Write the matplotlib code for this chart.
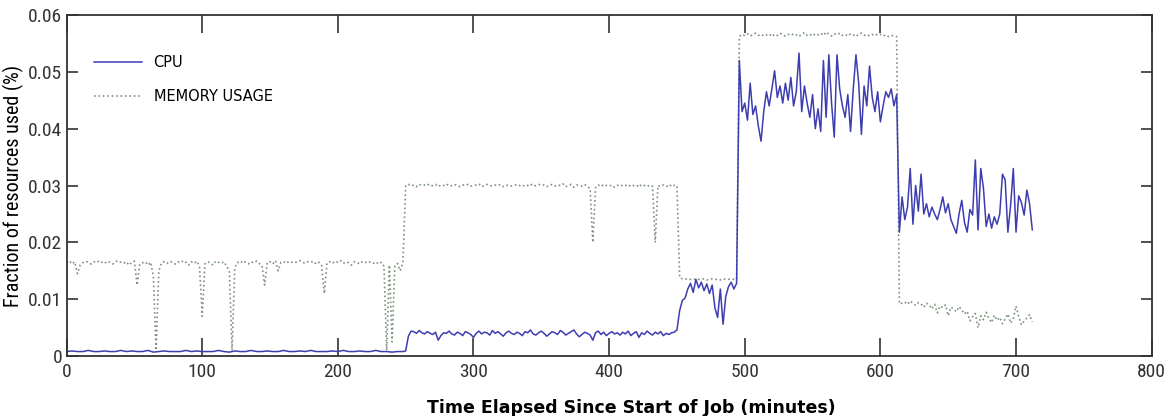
import numpy as np
import matplotlib
matplotlib.use('Agg')
from matplotlib import pyplot as plt

# CPU samples, one segment per phase of the job
cpu_t_start = [0, 250, 452, 496, 614]
cpu_t_step = [4, 2, 2, 2, 2]

cpu_idle = [
    0.0008, 0.0009, 0.0008, 0.0008, 0.0010, 0.0008, 0.0008, 0.0009, 0.0008, 0.0008,
    0.0010, 0.0008, 0.0009, 0.0008, 0.0008, 0.0010, 0.0007, 0.0008, 0.0009, 0.0008,
    0.0008, 0.0008, 0.0010, 0.0008, 0.0009, 0.0008, 0.0008, 0.0008, 0.0010, 0.0008,
    0.0007, 0.0009, 0.0008, 0.0008, 0.0010, 0.0008, 0.0008, 0.0009, 0.0008, 0.0008,
    0.0010, 0.0008, 0.0008, 0.0009, 0.0008, 0.0010, 0.0008, 0.0008, 0.0008, 0.0009,
    0.0008, 0.0010, 0.0008, 0.0008, 0.0009, 0.0008, 0.0008, 0.0010, 0.0008, 0.0008,
    0.0007, 0.0008, 0.0008,
]
cpu_phase2 = [
    0.0009, 0.0035, 0.0044, 0.0043, 0.0040, 0.0045, 0.0041, 0.0039, 0.0043, 0.0040,
    0.0038, 0.0042, 0.0028, 0.0036, 0.0041, 0.0040, 0.0044, 0.0039, 0.0037, 0.0042,
    0.0040, 0.0036, 0.0043, 0.0041, 0.0038, 0.0033, 0.0040, 0.0044, 0.0039, 0.0042,
    0.0041, 0.0037, 0.0045, 0.0040, 0.0043, 0.0039, 0.0035, 0.0041, 0.0044, 0.0040,
    0.0038, 0.0042, 0.0040, 0.0036, 0.0043, 0.0041, 0.0046, 0.0039, 0.0037, 0.0041,
    0.0044, 0.0040, 0.0035, 0.0039, 0.0043, 0.0041, 0.0038, 0.0045, 0.0042, 0.0037,
    0.0040, 0.0043, 0.0046, 0.0039, 0.0034, 0.0038, 0.0042, 0.0040, 0.0037, 0.0028,
    0.0041, 0.0044, 0.0038, 0.0042, 0.0036, 0.0040, 0.0043, 0.0039, 0.0041, 0.0037,
    0.0042, 0.0039, 0.0044, 0.0036, 0.0040, 0.0043, 0.0033, 0.0041, 0.0038, 0.0044,
    0.0040, 0.0037, 0.0042, 0.0039, 0.0043, 0.0036, 0.0040, 0.0038, 0.0041, 0.0042,
    0.0046,
]
cpu_phase3 = [
    0.0080, 0.0098, 0.0102, 0.0118, 0.0128, 0.0112, 0.0135, 0.0120, 0.0130, 0.0115,
    0.0127, 0.0110, 0.0125, 0.0085, 0.0068, 0.0118, 0.0056, 0.0105, 0.0122, 0.0130,
    0.0118, 0.0128,
]
cpu_phase4 = [
    0.0520, 0.0430, 0.0445, 0.0415, 0.0480, 0.0425, 0.0440, 0.0405, 0.0378, 0.0430,
    0.0465, 0.0440, 0.0470, 0.0502, 0.0455, 0.0475, 0.0445, 0.0480, 0.0450, 0.0490,
    0.0440, 0.0465, 0.0533, 0.0430, 0.0475, 0.0445, 0.0420, 0.0460, 0.0400, 0.0435,
    0.0395, 0.0520, 0.0420, 0.0530, 0.0445, 0.0385, 0.0530, 0.0470, 0.0440, 0.0420,
    0.0460, 0.0395, 0.0470, 0.0530, 0.0480, 0.0390, 0.0475, 0.0440, 0.0510, 0.0455,
    0.0430, 0.0465, 0.0412, 0.0440, 0.0465, 0.0455, 0.0470, 0.0440, 0.0460,
]
cpu_phase5 = [
    0.0218, 0.0280, 0.0240, 0.0262, 0.0330, 0.0232, 0.0300, 0.0255, 0.0320, 0.0250,
    0.0268, 0.0245, 0.0262, 0.0250, 0.0240, 0.0258, 0.0280, 0.0252, 0.0268, 0.0240,
    0.0228, 0.0216, 0.0250, 0.0274, 0.0235, 0.0218, 0.0258, 0.0248, 0.0345, 0.0222,
    0.0330, 0.0295, 0.0228, 0.0250, 0.0225, 0.0245, 0.0232, 0.0250, 0.0320, 0.0310,
    0.0218, 0.0265, 0.0330, 0.0218, 0.0282, 0.0270, 0.0248, 0.0292, 0.0268, 0.0222,
]

# memory samples, every 2 minutes
mem_t_start = [0, 250, 452, 496, 614]

mem_phase1 = [
    0.0165, 0.0168, 0.0162, 0.0166, 0.0145, 0.0160, 0.0164, 0.0167, 0.0165, 0.0162,
    0.0166, 0.0164, 0.0168, 0.0165, 0.0163, 0.0167, 0.0165, 0.0162, 0.0166, 0.0168,
    0.0165, 0.0163, 0.0166, 0.0160, 0.0165, 0.0167, 0.0125, 0.0162, 0.0164, 0.0166,
    0.0160, 0.0165, 0.0140, 0.0010, 0.0150, 0.0164, 0.0166, 0.0163, 0.0167, 0.0165,
    0.0162, 0.0166, 0.0164, 0.0168, 0.0165, 0.0160, 0.0166, 0.0163, 0.0167, 0.0158,
    0.0070, 0.0162, 0.0166, 0.0164, 0.0160, 0.0167, 0.0165, 0.0163, 0.0166, 0.0158,
    0.0150, 0.0010, 0.0155, 0.0165, 0.0163, 0.0168, 0.0165, 0.0162, 0.0166, 0.0164,
    0.0167, 0.0163, 0.0160, 0.0125, 0.0165, 0.0166, 0.0162, 0.0168, 0.0150, 0.0165,
    0.0166, 0.0163, 0.0167, 0.0165, 0.0164, 0.0166, 0.0168, 0.0165, 0.0163, 0.0166,
    0.0165, 0.0167, 0.0162, 0.0165, 0.0160, 0.0110, 0.0164, 0.0166, 0.0163, 0.0167,
    0.0165, 0.0168, 0.0163, 0.0166, 0.0164, 0.0160, 0.0166, 0.0165, 0.0162, 0.0166,
    0.0164, 0.0167, 0.0165, 0.0163, 0.0166, 0.0162, 0.0165, 0.0158, 0.0010, 0.0160,
    0.0025, 0.0158, 0.0163, 0.0150, 0.0165,
]
mem_phase2 = [
    0.0300, 0.0302, 0.0299, 0.0301, 0.0298, 0.0302, 0.0300, 0.0301, 0.0303, 0.0299,
    0.0300, 0.0302, 0.0298, 0.0301, 0.0300, 0.0303, 0.0299, 0.0300, 0.0302, 0.0300,
    0.0298, 0.0301, 0.0300, 0.0302, 0.0299, 0.0300, 0.0301, 0.0303, 0.0298, 0.0300,
    0.0302, 0.0300, 0.0299, 0.0301, 0.0300, 0.0302, 0.0298, 0.0300, 0.0301, 0.0299,
    0.0300, 0.0302, 0.0300, 0.0298, 0.0301, 0.0300, 0.0303, 0.0299, 0.0300, 0.0302,
    0.0300, 0.0301, 0.0298, 0.0300, 0.0302, 0.0299, 0.0301, 0.0300, 0.0303, 0.0298,
    0.0300, 0.0302, 0.0297, 0.0301, 0.0300, 0.0299, 0.0302, 0.0298, 0.0295, 0.0200,
    0.0296, 0.0301, 0.0298, 0.0302, 0.0300, 0.0299, 0.0301, 0.0297, 0.0300, 0.0302,
    0.0299, 0.0300, 0.0302, 0.0298, 0.0300, 0.0301, 0.0297, 0.0302, 0.0300, 0.0298,
    0.0301, 0.0299, 0.0200, 0.0300, 0.0298, 0.0301, 0.0300, 0.0297, 0.0302, 0.0300,
    0.0300,
]
mem_phase3 = [
    0.0138, 0.0136, 0.0135, 0.0136, 0.0135, 0.0134, 0.0136, 0.0135, 0.0135, 0.0136,
    0.0134, 0.0135, 0.0136, 0.0135, 0.0135, 0.0134, 0.0136, 0.0135, 0.0135, 0.0136,
    0.0135, 0.0135,
]
mem_phase4 = [
    0.0562, 0.0566, 0.0564, 0.0567, 0.0563, 0.0565, 0.0568, 0.0564, 0.0566, 0.0563,
    0.0565, 0.0567, 0.0562, 0.0566, 0.0564, 0.0568, 0.0565, 0.0563, 0.0566, 0.0564,
    0.0567, 0.0565, 0.0562, 0.0566, 0.0569, 0.0564, 0.0566, 0.0563, 0.0567, 0.0565,
    0.0568, 0.0564, 0.0570, 0.0566, 0.0563, 0.0567, 0.0565, 0.0568, 0.0564, 0.0566,
    0.0563, 0.0567, 0.0565, 0.0562, 0.0566, 0.0568, 0.0564, 0.0566, 0.0563, 0.0565,
    0.0567, 0.0564, 0.0566, 0.0563, 0.0565, 0.0562, 0.0564, 0.0563, 0.0562,
]
mem_phase5 = [
    0.0092, 0.0093, 0.0095, 0.0091, 0.0097, 0.0093, 0.0089, 0.0094, 0.0092, 0.0086,
    0.0093, 0.0090, 0.0083, 0.0091, 0.0076, 0.0088, 0.0085, 0.0090, 0.0071, 0.0086,
    0.0083, 0.0078, 0.0087, 0.0081, 0.0074, 0.0079, 0.0062, 0.0069, 0.0075, 0.0050,
    0.0071, 0.0064, 0.0077, 0.0066, 0.0059, 0.0072, 0.0063, 0.0068, 0.0057, 0.0065,
    0.0074, 0.0058, 0.0066, 0.0088, 0.0069, 0.0055, 0.0062, 0.0067, 0.0073, 0.0060,
]

x_ticks = [0, 100, 200, 300, 400, 500, 600, 700, 800]
y_ticks = [0, 0.01, 0.02, 0.03, 0.04, 0.05, 0.06]
y_tick_labels = ['0', '0.01', '0.02', '0.03', '0.04', '0.05', '0.06']


def join_segments(starts, steps, segments):
    times, values = [], []
    for start, step, seg in zip(starts, steps, segments):
        times.append(start + step * np.arange(len(seg)))
        values.append(np.array(seg))
    return np.concatenate(times), np.concatenate(values)


cpu_t, cpu = join_segments(cpu_t_start, cpu_t_step,
                           [cpu_idle, cpu_phase2, cpu_phase3, cpu_phase4, cpu_phase5])
mem_t, mem = join_segments(mem_t_start, [2] * 5,
                           [mem_phase1, mem_phase2, mem_phase3, mem_phase4, mem_phase5])

narrow = dict(family=['Liberation Sans Narrow', 'Roboto Condensed', 'DejaVu Sans'],
              fontstretch='condensed')

fig = plt.figure(figsize=(11.68, 4.16), dpi=100)
ax = fig.add_axes([0.057, 0.144, 0.929, 0.820])

ax.plot(mem_t, mem, linestyle=':', color='#7d917d', linewidth=1.2, label='MEMORY USAGE')
ax.plot(cpu_t, cpu, color='#3d3db0', linewidth=1.1, label='CPU')

ax.set_xlim(0, 800)
ax.set_ylim(0, 0.06)
ax.set_xticks(x_ticks)
ax.set_xticklabels([str(t) for t in x_ticks], fontsize=14, **narrow)
ax.set_yticks(y_ticks)
ax.set_yticklabels(y_tick_labels, fontsize=14, **narrow)
ax.tick_params(direction='in', width=1.2, top=True, right=True, colors='#333333')
ax.tick_params(axis='x', length=13, pad=5)
ax.tick_params(axis='y', length=8, pad=3)
for side in ax.spines.values():
    side.set_linewidth(1.3)
    side.set_color('#333333')

ax.set_ylabel('Fraction of resources used (%)', fontsize=14.5, labelpad=3, **narrow)
ax.set_xlabel('Time Elapsed Since Start of Job (minutes)', fontweight='bold',
              fontsize=12.5)
ax.xaxis.set_label_coords(0.52, -0.125)

handles, labels = ax.get_legend_handles_labels()
ax.legend(handles[::-1], labels[::-1], loc='upper left', frameon=False,
          bbox_to_anchor=(0.013, 0.92), handlelength=3.3, labelspacing=1.3,
          prop={'size': 10.5})

fig.savefig('out.png', dpi=100)
